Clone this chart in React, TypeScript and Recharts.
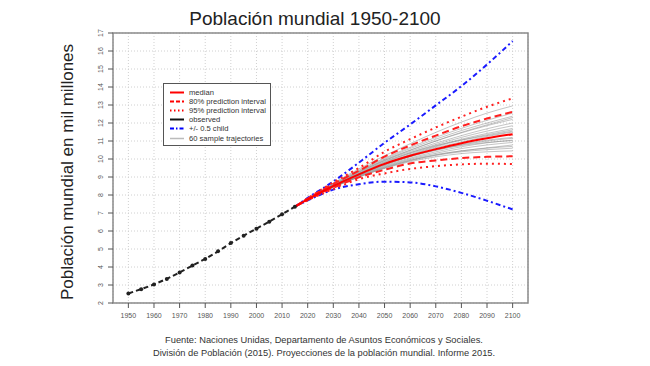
import React from 'react';
import { LineChart, Line, XAxis, YAxis, CartesianGrid, ReferenceArea } from 'recharts';

const titleText = 'Población mundial 1950-2100';
const yLabelText = 'Población mundial en mil millones';
const footerLines = [
  'Fuente: Naciones Unidas, Departamento de Asuntos Económicos y Sociales.',
  'División de Población (2015). Proyecciones de la población mundial. Informe 2015.',
];

const xTicks = [1950, 1960, 1970, 1980, 1990, 2000, 2010, 2020, 2030, 2040, 2050, 2060, 2070, 2080, 2090, 2100];
const yTicks = [2, 3, 4, 5, 6, 7, 8, 9, 10, 11, 12, 13, 14, 15, 16, 17];

const observedYears = [1950, 1955, 1960, 1965, 1970, 1975, 1980, 1985, 1990, 1995, 2000, 2005, 2010, 2015];
const observedPop = [2.53, 2.77, 3.03, 3.34, 3.70, 4.08, 4.45, 4.87, 5.33, 5.74, 6.13, 6.52, 6.93, 7.35];

const projYears = [2015, 2020, 2030, 2040, 2050, 2060, 2070, 2080, 2090, 2100];
const median = [7.35, 7.76, 8.50, 9.15, 9.73, 10.18, 10.55, 10.88, 11.15, 11.38];
const pi80Upper = [7.35, 7.80, 8.62, 9.35, 10.13, 10.75, 11.30, 11.82, 12.25, 12.62];
const pi80Lower = [7.35, 7.73, 8.40, 8.98, 9.40, 9.75, 9.92, 10.05, 10.12, 10.15];
const pi95Upper = [7.35, 7.82, 8.70, 9.50, 10.40, 11.10, 11.75, 12.35, 12.90, 13.37];
const pi95Lower = [7.35, 7.71, 8.33, 8.88, 9.20, 9.45, 9.60, 9.70, 9.74, 9.72];
const plusHalfChild = [7.35, 7.84, 8.75, 9.80, 10.90, 11.92, 12.98, 14.05, 15.25, 16.55];
const minusHalfChild = [7.35, 7.70, 8.30, 8.60, 8.74, 8.70, 8.48, 8.12, 7.68, 7.20];

const sampleTrajectories = [
  [7.35, 7.78, 8.58, 9.30, 9.95, 10.50, 11.00, 11.45, 11.85, 12.20],
  [7.35, 7.75, 8.45, 9.05, 9.55, 9.95, 10.25, 10.45, 10.60, 10.70],
  [7.35, 7.77, 8.52, 9.20, 9.82, 10.35, 10.80, 11.20, 11.55, 11.85],
  [7.35, 7.74, 8.42, 9.00, 9.48, 9.85, 10.12, 10.30, 10.40, 10.45],
  [7.35, 7.79, 8.62, 9.38, 10.05, 10.65, 11.20, 11.70, 12.15, 12.55],
  [7.35, 7.76, 8.48, 9.12, 9.68, 10.15, 10.52, 10.82, 11.05, 11.20],
  [7.35, 7.76, 8.50, 9.16, 9.74, 10.22, 10.62, 10.95, 11.25, 11.50],
  [7.35, 7.75, 8.46, 9.08, 9.62, 10.05, 10.40, 10.68, 10.90, 11.05],
  [7.35, 7.78, 8.56, 9.26, 9.90, 10.42, 10.88, 11.30, 11.68, 12.00],
  [7.35, 7.77, 8.54, 9.22, 9.85, 10.35, 10.75, 11.05, 11.30, 11.55],
  [7.35, 7.74, 8.44, 9.02, 9.52, 9.92, 10.22, 10.45, 10.62, 10.78],
  [7.35, 7.79, 8.60, 9.34, 10.00, 10.58, 11.10, 11.58, 12.00, 12.38],
  [7.35, 7.77, 8.50, 9.14, 9.70, 10.15, 10.50, 10.75, 10.92, 11.02],
  [7.35, 7.76, 8.52, 9.18, 9.78, 10.30, 10.72, 11.10, 11.42, 11.70],
  [7.35, 7.75, 8.47, 9.10, 9.66, 10.12, 10.48, 10.78, 11.00, 11.15],
  [7.35, 7.78, 8.57, 9.28, 9.92, 10.48, 11.00, 11.48, 11.90, 12.30],
  [7.35, 7.75, 8.43, 9.00, 9.50, 9.90, 10.20, 10.40, 10.52, 10.60],
  [7.35, 7.80, 8.66, 9.45, 10.18, 10.85, 11.48, 12.05, 12.55, 12.95],
  [7.35, 7.76, 8.49, 9.13, 9.72, 10.24, 10.68, 11.05, 11.35, 11.62],
  [7.35, 7.75, 8.45, 9.06, 9.58, 10.00, 10.32, 10.58, 10.78, 10.92],
];

const toSeries = (years: number[], values: number[]) => years.map((year, i) => ({ year, value: values[i] }));

const legendItems = [
  { label: 'median', color: '#ff0000', dash: undefined as string | undefined, width: 2 },
  { label: '80% prediction interval', color: '#ff0000', dash: '4 2', width: 2 },
  { label: '95% prediction interval', color: '#ff0000', dash: '1.5 2.5', width: 2 },
  { label: 'observed', color: '#111111', dash: undefined, width: 2 },
  { label: '+/- 0.5 child', color: '#0000ff', dash: '4 2 1.5 2', width: 2 },
  { label: '60 sample trajectories', color: '#bbbbbb', dash: undefined, width: 1.5 },
];

const FONT = '"Liberation Sans", Arial, Helvetica, sans-serif';

const YTick = (props: any) => {
  const { x, y, payload } = props;
  const tx = x - 3;
  return (
    <text x={tx} y={y} transform={`rotate(-90 ${tx} ${y})`} textAnchor="middle" fontSize={7} fill="#555" fontFamily={FONT}>
      {payload.value}
    </text>
  );
};

const XTick = (props: any) => {
  const { x, y, payload } = props;
  return (
    <text x={x} y={y + 8} textAnchor="middle" fontSize={7} fill="#555" fontFamily={FONT}>
      {payload.value}
    </text>
  );
};

export default function App() {
  return (
    <div style={{ position: 'absolute', left: 0, top: 0, width: 650, height: 366, background: '#fff', fontFamily: FONT }}>
      <LineChart width={650} height={366} margin={{ top: 33, right: 122, bottom: 33, left: 73 }}>
        <CartesianGrid stroke="#d0d0d0" strokeDasharray="1 2" />
        <XAxis
          dataKey="year"
          type="number"
          domain={[1944, 2106]}
          ticks={xTicks}
          allowDuplicatedCategory={false}
          height={30}
          axisLine={false}
          tickLine={{ stroke: '#555' }}
          tickSize={5}
          tick={<XTick />}
          interval={0}
        />
        <YAxis
          type="number"
          domain={[2, 17]}
          ticks={yTicks}
          width={40}
          axisLine={false}
          tickLine={{ stroke: '#555' }}
          tickSize={5}
          tick={<YTick />}
          interval={0}
        />
        <ReferenceArea x1={1944} x2={2106} y1={2} y2={17} fill="none" stroke="#8a8a8a" strokeWidth={1.5} />
        {sampleTrajectories.map((traj, i) => (
          <Line
            key={'t' + i}
            data={toSeries(projYears, traj)}
            dataKey="value"
            type="monotone"
            stroke="#8a8a8a"
            strokeOpacity={0.5}
            strokeWidth={1}
            dot={false}
            isAnimationActive={false}
          />
        ))}
        <Line data={toSeries(projYears, plusHalfChild)} dataKey="value" type="monotone" stroke="#1a1aff" strokeWidth={2} strokeDasharray="5 3 2 3" dot={false} isAnimationActive={false} />
        <Line data={toSeries(projYears, minusHalfChild)} dataKey="value" type="monotone" stroke="#1a1aff" strokeWidth={2} strokeDasharray="5 3 2 3" dot={false} isAnimationActive={false} />
        <Line data={toSeries(projYears, pi95Upper)} dataKey="value" type="monotone" stroke="#ff2020" strokeWidth={2} strokeDasharray="2 4" dot={false} isAnimationActive={false} />
        <Line data={toSeries(projYears, pi95Lower)} dataKey="value" type="monotone" stroke="#ff2020" strokeWidth={2} strokeDasharray="2 4" dot={false} isAnimationActive={false} />
        <Line data={toSeries(projYears, pi80Upper)} dataKey="value" type="monotone" stroke="#ff2020" strokeWidth={2} strokeDasharray="7 4" dot={false} isAnimationActive={false} />
        <Line data={toSeries(projYears, pi80Lower)} dataKey="value" type="monotone" stroke="#ff2020" strokeWidth={2} strokeDasharray="7 4" dot={false} isAnimationActive={false} />
        <Line data={toSeries(projYears, median)} dataKey="value" type="monotone" stroke="#ff0000" strokeWidth={2} dot={false} isAnimationActive={false} />
        <Line
          data={toSeries(observedYears, observedPop)}
          dataKey="value"
          type="linear"
          stroke="#222"
          strokeWidth={2}
          strokeDasharray="5 3"
          dot={{ r: 2, fill: '#222', stroke: 'none' }}
          isAnimationActive={false}
        />
        <text x={315} y={25} textAnchor="middle" fontSize={19} fill="#222" fontFamily={FONT}>
          {titleText}
        </text>
        <text x={73} y={172} transform="rotate(-90 73 172)" textAnchor="middle" fontSize={17} fill="#222" fontFamily={FONT}>
          {yLabelText}
        </text>
        {footerLines.map((line, i) => (
          <text key={i} x={324} y={343 + i * 12.5} textAnchor="middle" fontSize={9.3} fill="#333" fontFamily={FONT}>
            {line}
          </text>
        ))}
      </LineChart>
      <div
        style={{
          position: 'absolute',
          left: 163,
          top: 83,
          width: 108,
          height: 63,
          border: '1.5px solid #555',
          boxSizing: 'border-box',
          background: '#fff',
        }}
      >
        {legendItems.map((item, i) => (
          <div key={i} style={{ position: 'absolute', left: 5, top: 4 + i * 9.1, height: 9, display: 'flex', alignItems: 'center' }}>
            <svg width={16} height={9} style={{ display: 'block' }}>
              <line x1={1} y1={4.5} x2={15} y2={4.5} stroke={item.color} strokeWidth={item.width} strokeDasharray={item.dash} />
            </svg>
            <span style={{ marginLeft: 4, fontSize: 7.6, color: '#333', lineHeight: '9px', whiteSpace: 'nowrap' }}>{item.label}</span>
          </div>
        ))}
      </div>
    </div>
  );
}
